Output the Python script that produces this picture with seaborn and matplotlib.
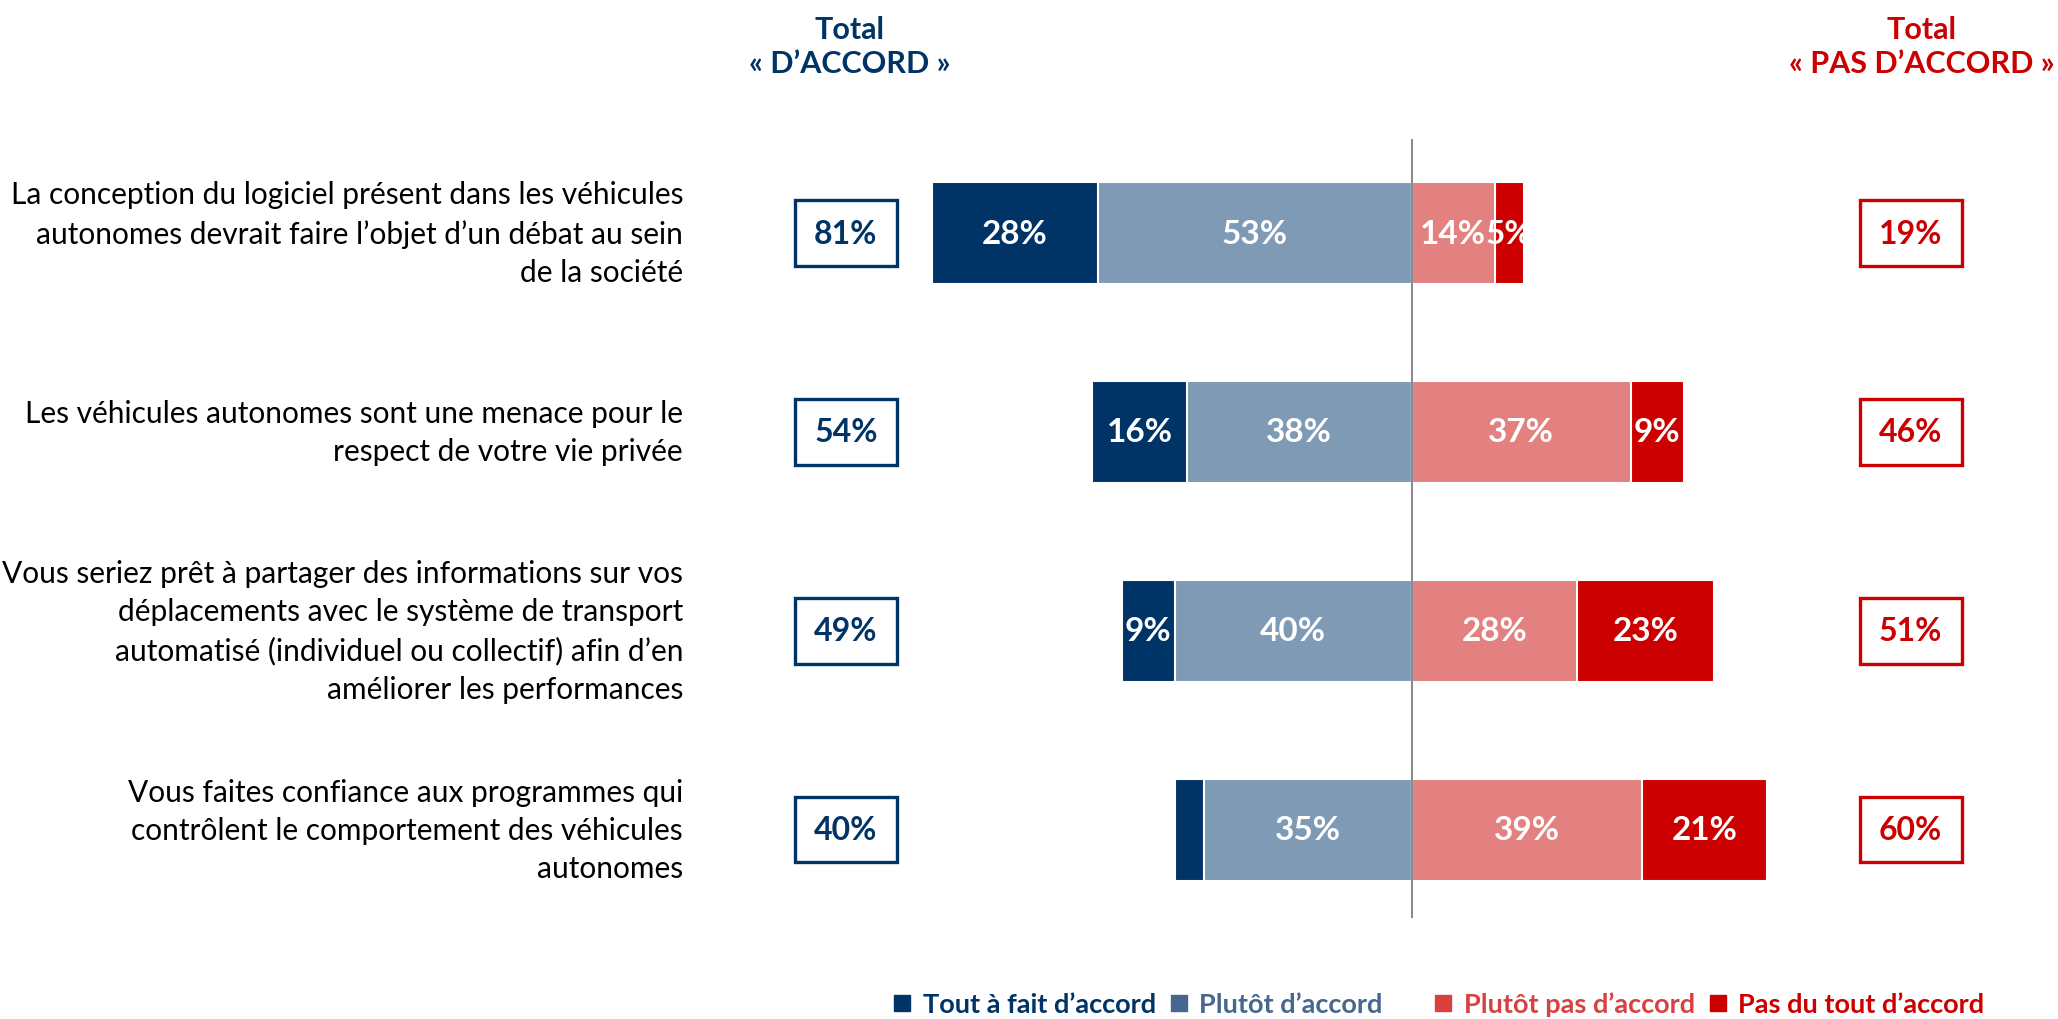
import pandas as pd
import seaborn as sns
import matplotlib.pyplot as plt
from matplotlib.patches import Rectangle
from matplotlib.lines import Line2D

# Data
questions = [
    "La conception du logiciel présent dans les véhicules\nautonomes devrait faire l’objet d’un débat au sein\nde la société",
    "Les véhicules autonomes sont une menace pour le\nrespect de votre vie privée",
    "Vous seriez prêt à partager des informations sur vos\ndéplacements avec le système de transport\nautomatisé (individuel ou collectif) afin d’en\naméliorer les performances",
    "Vous faites confiance aux programmes qui\ncontrôlent le comportement des véhicules\nautonomes",
]
tout_accord = [28, 16, 9, 5]
plutot_accord = [53, 38, 40, 35]
plutot_pas = [14, 37, 28, 39]
pas_du_tout = [5, 9, 23, 21]
total_accord = [81, 54, 49, 40]
total_pas = [19, 46, 51, 60]
show_tout_label = [True, True, True, False]
legend_labels = ["Tout à fait d’accord", "Plutôt d’accord",
                 "Plutôt pas d’accord", "Pas du tout d’accord"]

navy = "#003366"
blue_grey = "#7F9AB4"
pink = "#E38080"
red = "#CC0000"
legend_colors = [navy, "#46688F", "#D94141", red]

df = pd.DataFrame({
    "question": questions,
    "tout": tout_accord,
    "plutot": plutot_accord,
    "plutot_pas": plutot_pas,
    "pas_du_tout": pas_du_tout,
})
# stacked by overlapping: the outer (cumulative) bar first, inner bar on top
df["left_outer"] = -(df["tout"] + df["plutot"])
df["left_inner"] = -df["plutot"]
df["right_outer"] = df["plutot_pas"] + df["pas_du_tout"]
df["right_inner"] = df["plutot_pas"]

sns.set_theme(style="white")
plt.rcParams["font.family"] = ["Lato", "DejaVu Sans"]

fig = plt.figure(figsize=(20.58, 10.2), dpi=100)
ax = fig.add_axes([0, 0, 1, 1])

for col, c in [("left_outer", navy), ("left_inner", blue_grey),
               ("right_outer", red), ("right_inner", pink)]:
    sns.barplot(data=df, x=col, y="question", orient="h", color=c,
                saturation=1, width=0.51, edgecolor="white", linewidth=1.5,
                errorbar=None, ax=ax)

ax.set_xlim(-238.5, 109.2)
ax.set_ylim(3.95, -1.176)
ax.axis("off")

# centre line
ax.vlines(0, -0.472, 3.442, color="#7F7F7F", lw=1.3, zorder=5)

lab_kw = dict(ha="center", va="center", color="white", fontsize=24,
              fontweight="bold", zorder=6)
box_w, box_h = 17.2, 0.327
for i in range(len(questions)):
    t, p, pp, pd_ = tout_accord[i], plutot_accord[i], plutot_pas[i], pas_du_tout[i]
    if show_tout_label[i]:
        ax.text(-(p + t / 2), i, f"{t}%", **lab_kw)
    ax.text(-p / 2, i, f"{p}%", **lab_kw)
    ax.text(pp / 2, i, f"{pp}%", **lab_kw)
    ax.text(pp + pd_ / 2, i, f"{pd_}%", **lab_kw)

    # question label
    ax.text(-123.1, i, questions[i], ha="right", va="center",
            multialignment="right", fontsize=21.5, color="black",
            linespacing=1.45)

    # total boxes
    ax.add_patch(Rectangle((-95.6 - box_w / 2, i - box_h / 2), box_w, box_h,
                           fill=False, edgecolor=navy, lw=2.4))
    ax.text(-95.6, i, f"{total_accord[i]}%", ha="center", va="center",
            color=navy, fontsize=23, fontweight="bold")
    ax.add_patch(Rectangle((84.3 - box_w / 2, i - box_h / 2), box_w, box_h,
                           fill=False, edgecolor=red, lw=2.4))
    ax.text(84.3, i, f"{total_pas[i]}%", ha="center", va="center",
            color=red, fontsize=23, fontweight="bold")

# column headers
ax.text(-94.9, -0.94, "Total\n« D’ACCORD »", ha="center", va="center",
        color=navy, fontsize=22, fontweight="bold", linespacing=1.3)
ax.text(86.2, -0.94, "Total\n« PAS D’ACCORD »", ha="center", va="center",
        color=red, fontsize=22, fontweight="bold", linespacing=1.3)

# legend in two groups
handles = [Line2D([], [], marker="s", ls="", markersize=11.5, color=c)
           for c in legend_colors]
leg_kw = dict(ncol=2, frameon=False, borderpad=0, borderaxespad=0,
              handlelength=0.7, handletextpad=0.4, columnspacing=0.5,
              prop={"size": 19.5, "weight": "bold"})
leg1 = fig.legend(handles[:2], legend_labels[:2], loc="center left",
                  bbox_to_anchor=(893 / 2058, 1 - 1005 / 1020), **leg_kw)
leg2 = fig.legend(handles[2:], legend_labels[2:], loc="center left",
                  bbox_to_anchor=(1434 / 2058, 1 - 1005 / 1020), **leg_kw)
for leg, cols in [(leg1, legend_colors[:2]), (leg2, legend_colors[2:])]:
    for txt, c in zip(leg.get_texts(), cols):
        txt.set_color(c)

fig.savefig("out.png", dpi=100)
